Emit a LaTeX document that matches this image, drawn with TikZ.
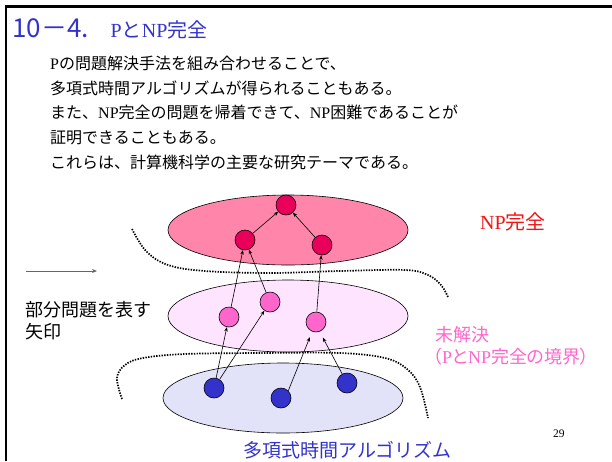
\documentclass[tikz,border=0pt]{standalone}
\usepackage{fontspec}
\setmainfont{Liberation Serif}
\newfontfamily\jp{Noto Sans CJK JP}
\newfontfamily\jpp[RawFeature=+palt]{Noto Sans CJK JP}
\usetikzlibrary{shapes.geometric,arrows.meta}
\definecolor{ttlblue}{RGB}{51,51,204}
\definecolor{npcfill}{RGB}{255,133,170}
\definecolor{npcnode}{RGB}{232,0,90}
\definecolor{midfill}{RGB}{255,228,255}
\definecolor{midnode}{RGB}{255,102,204}
\definecolor{pfill}{RGB}{226,226,248}
\definecolor{pnode}{RGB}{51,51,204}
\definecolor{npred}{RGB}{240,20,20}
\newcommand\J[1]{{\jp #1}}
\tikzset{
  setell/.style={ellipse, draw=black, line width=0.6pt, minimum width=240pt, minimum height=70pt, inner sep=0pt},
  prob/.style={circle, draw=black, line width=0.6pt, minimum size=20pt, inner sep=0pt},
  red/.style={-{Stealth[length=4.5pt,width=3.5pt]}, line width=0.6pt, black},
  bound/.style={line width=1.7pt, dash pattern=on 1.4pt off 1.3pt},
  txt/.style={anchor=base west, inner sep=0pt, font=\fontsize{16pt}{16pt}\selectfont},
}
\begin{document}
\begin{tikzpicture}[x=1pt,y=-1pt]
\useasboundingbox (0,0) rectangle (612,461);
\draw[line width=2.5pt] (6,461) -- (6,6.5) -- (612,6.5);
% title
\node[anchor=base west, inner sep=0pt, text=ttlblue] (title) at (12,37.5)
  {{\jp\fontsize{26pt}{26pt}\selectfont 10－4.}\hspace{22pt}{\fontsize{20pt}{20pt}\selectfont P\J{と}NP\J{完全}}};
% body
\node[txt] (l1) at (50,69) {P\J{の問題解決手法を組み合わせることで、}};
\node[txt] (l2) at (50,94) {\J{多項式時間アルゴリズムが得られることもある。}};
\node[txt] (l3) at (50,118.5) {\J{また、}NP\J{完全の問題を帰着できて、}NP\J{困難であることが}};
\node[txt] (l4) at (50,143) {\J{証明できることもある。}};
\node[txt] (l5) at (50,168) {\J{これらは、計算機科学の主要な研究テーマである。}};
% sets
\node[setell, fill=npcfill] (npc) at (288,230) {};
\node[setell, fill=midfill, minimum height=72pt] (mid) at (288,316) {};
\node[setell, fill=pfill] (pset) at (283,398) {};
% boundaries
\draw[bound] plot[smooth, tension=0.6] coordinates {(132,229) (146,251) (168,265) (205,271) (270,273) (340,271) (405,270) (428,275) (441,285) (448,297)};
\draw[bound] plot[smooth, tension=0.6] coordinates {(122,399) (117,378) (125,365) (143,358) (185,354) (260,353) (340,353) (385,358) (407,369) (420,387) (428,418)};
% problem nodes
\node[prob, fill=npcnode] (t) at (286,205) {};
\node[prob, fill=npcnode] (l) at (245,240) {};
\node[prob, fill=npcnode] (r) at (322,245) {};
\node[prob, fill=midnode] (m1) at (229,317) {};
\node[prob, fill=midnode] (m2) at (270,302) {};
\node[prob, fill=midnode] (m3) at (316,322) {};
\node[prob, fill=pnode] (b1) at (214,388) {};
\node[prob, fill=pnode] (b2) at (281,398) {};
\node[prob, fill=pnode] (b3) at (347,383) {};
% reductions
\draw[red] (l) -- (t);
\draw[red] (r) -- (t);
\draw[red] (m1) -- (l);
\draw[red] (m2) -- (l);
\draw[red] (m3) -- (r);
\draw[red] (b1) -- (m1);
\draw[red] (b1) -- (m2);
\draw[red, shorten >=6pt] (b2.45) -- (m3);
\draw[red, shorten >=6pt] (b3) -- ([xshift=4pt]m3.south);
% legend
\coordinate (la) at (26,271);
\coordinate (lb) at (97,271);
\draw[-{Stealth[length=5pt,width=4pt]}, line width=1pt, black!60] (la) -- (lb);
\node[anchor=base west, inner sep=0pt, font=\fontsize{18pt}{18pt}\selectfont] (leg1) at (25,316) {\J{部分問題を表す}};
\node[anchor=base west, inner sep=0pt, font=\fontsize{18pt}{18pt}\selectfont] (leg2) at (25,338) {\J{矢印}};
% labels
\node[anchor=base west, inner sep=0pt, text=npred, font=\fontsize{20pt}{20pt}\selectfont] (npl) at (480,229.6) {NP\J{完全}};
\node[anchor=base west, inner sep=0pt, text=midnode, font=\fontsize{18pt}{18pt}\selectfont] (ul1) at (435,341) {\J{未解決}};
\node[anchor=base west, inner sep=0pt, text=midnode, font=\fontsize{18pt}{18pt}\selectfont] (ul2) at (433,363.5) {{\jpp （}P{\jpp と}NP{\jpp 完全の境界）}};
\node[anchor=base west, inner sep=0pt, text=pnode, font=\fontsize{19pt}{19pt}\selectfont] (pl) at (243,457) {\J{多項式時間アルゴリズム}};
\node[anchor=base west, inner sep=0pt, font=\fontsize{11.5pt}{11.5pt}\selectfont] (pg) at (553,437) {29};
\end{tikzpicture}
\end{document}
